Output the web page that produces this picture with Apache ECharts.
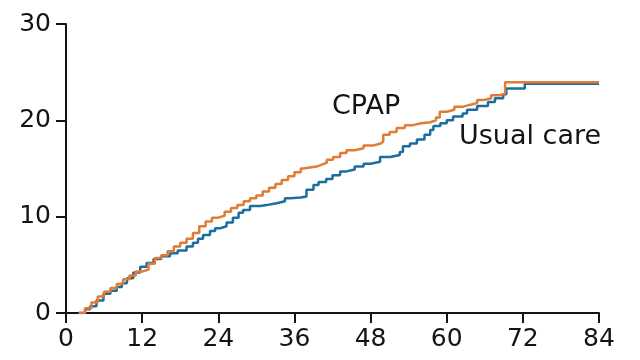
<!DOCTYPE html>
<html>
<head>
<meta charset="utf-8">
<script src="https://cdn.jsdelivr.net/npm/echarts@6/dist/echarts.min.js"></script>
<style>
html,body{margin:0;padding:0;background:#fff;}
#c{width:640px;height:360px;}
</style>
</head>
<body>
<div id="c"></div>
<script>
var xTicks = [0, 12, 24, 36, 48, 60, 72, 84];
var yTicks = [0, 10, 20, 30];

var cpapT = [2.0, 3.0, 4.0, 5.0, 6.0, 7.0, 8.0, 9.0, 10.0, 11.0, 12.0, 13.0, 14.0, 15.0, 16.0, 17.0, 18.0, 19.0, 20.0, 21.0, 22.0, 23.0, 24.0, 25.0, 26.0, 27.0, 28.0, 29.0, 30.0, 31.0, 32.0, 33.0, 34.0, 35.0, 36.0, 37.0, 37.4, 39.5, 40.3, 41.1, 42.1, 43.2, 44.2, 45.5, 46.9, 48.5, 49.6, 50.0, 51.0, 52.1, 53.4, 54.7, 56.0, 57.4, 58.3, 58.9, 60.0, 61.2, 62.5, 63.6, 64.8, 65.8, 67.0, 68.4, 69.2, 84.0];
var cpapV = [0.0, 0.5, 1.1, 1.7, 2.2, 2.6, 3.0, 3.5, 3.9, 4.3, 4.5, 5.1, 5.7, 6.0, 6.4, 6.9, 7.3, 7.7, 8.3, 9.0, 9.5, 9.9, 10.1, 10.5, 10.9, 11.2, 11.6, 11.9, 12.2, 12.6, 13.0, 13.4, 13.8, 14.2, 14.6, 15.0, 15.2, 15.4, 15.6, 15.9, 16.2, 16.6, 16.9, 17.1, 17.4, 17.6, 17.8, 18.5, 18.8, 19.2, 19.5, 19.7, 19.8, 20.0, 20.3, 20.9, 21.1, 21.4, 21.6, 21.8, 22.1, 22.3, 22.6, 22.8, 23.95, 23.95];

var usualT = [2.0, 3.0, 3.8, 4.8, 5.9, 7.0, 8.0, 8.8, 9.6, 10.6, 11.7, 12.7, 13.8, 15.0, 16.4, 17.6, 19.0, 20.0, 20.8, 21.6, 22.7, 23.5, 24.3, 25.3, 26.3, 27.2, 27.9, 29.0, 30.6, 31.6, 33.2, 34.5, 35.3, 37.0, 37.9, 39.0, 39.8, 41.0, 42.0, 43.2, 44.2, 45.5, 46.9, 48.0, 49.5, 51.1, 52.6, 53.1, 54.2, 55.3, 56.5, 57.4, 57.9, 59.0, 60.0, 61.0, 62.5, 63.2, 64.8, 66.5, 67.6, 68.9, 69.4, 72.3, 84.0];
var usualV = [0.0, 0.4, 0.7, 1.3, 2.0, 2.3, 2.7, 3.1, 3.6, 4.2, 4.8, 5.2, 5.6, 5.9, 6.2, 6.5, 6.9, 7.3, 7.7, 8.1, 8.5, 8.8, 9.0, 9.4, 9.9, 10.4, 10.7, 11.1, 11.2, 11.4, 11.6, 11.9, 12.0, 12.1, 12.8, 13.3, 13.6, 13.9, 14.3, 14.7, 14.9, 15.2, 15.5, 15.7, 16.2, 16.4, 16.7, 17.3, 17.6, 18.0, 18.5, 19.0, 19.4, 19.7, 20.0, 20.4, 20.7, 21.1, 21.5, 21.9, 22.3, 22.7, 23.3, 23.8, 23.8];

var seriesNames = ['CPAP', 'Usual care'];

function pairs(t, v) { return t.map(function (x, i) { return [x, v[i]]; }); }

var FONT = 'DejaVu Sans';
var INK = '#141414';

var chart = echarts.init(document.getElementById('c'), null, { renderer: 'canvas' });
chart.setOption({
  animation: false,
  backgroundColor: '#ffffff',
  grid: { left: 66, right: 41, top: 24, bottom: 47, containLabel: false },
  xAxis: {
    type: 'value', min: 0, max: 84, interval: 12,
    axisLine: { show: true, lineStyle: { color: INK, width: 2 } },
    axisTick: { show: true, length: 10, lineStyle: { color: INK, width: 2 } },
    axisLabel: { color: INK, fontFamily: FONT, fontSize: 25, margin: 14,
      formatter: function (v) { return xTicks.indexOf(v) >= 0 ? String(v) : ''; } },
    splitLine: { show: false }
  },
  yAxis: {
    type: 'value', min: 0, max: 30, interval: 10,
    axisLine: { show: true, lineStyle: { color: INK, width: 2 } },
    axisTick: { show: true, length: 10, lineStyle: { color: INK, width: 2 } },
    axisLabel: { color: INK, fontFamily: FONT, fontSize: 25, margin: 15,
      formatter: function (v) { return yTicks.indexOf(v) >= 0 ? String(v) : ''; } },
    splitLine: { show: false }
  },
  series: [
    { name: seriesNames[1], type: 'line', step: 'end', showSymbol: false, symbol: 'none',
      data: pairs(usualT, usualV), lineStyle: { color: '#1c6e9e', width: 2.5 }, z: 2 },
    { name: seriesNames[0], type: 'line', step: 'end', showSymbol: false, symbol: 'none',
      data: pairs(cpapT, cpapV), lineStyle: { color: '#e27b33', width: 2.5 }, z: 3 }
  ],
  graphic: [
    { type: 'text', left: 332, top: 93, style: { text: seriesNames[0], fontFamily: FONT, fontSize: 27, fill: INK } },
    { type: 'text', left: 459, top: 123, style: { text: seriesNames[1], fontFamily: FONT, fontSize: 27, fill: INK } }
  ]
});
</script>
</body>
</html>
